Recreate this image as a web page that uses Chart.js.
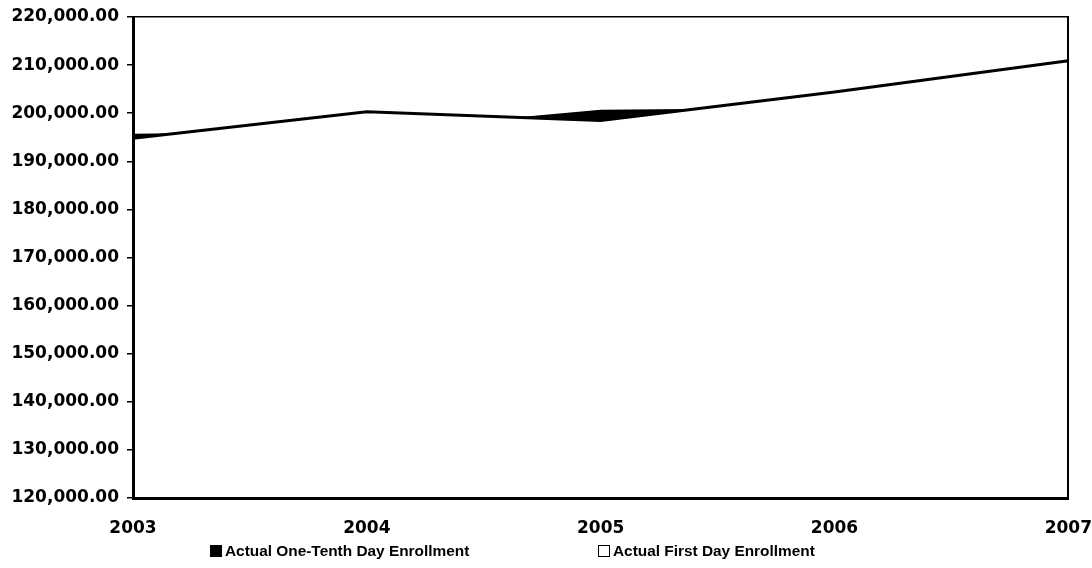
<!DOCTYPE html>
<html>
<head>
<meta charset="utf-8">
<script src="https://cdn.jsdelivr.net/npm/chart.js@4.4.0/dist/chart.umd.min.js"></script>
<style>
  html, body { margin: 0; padding: 0; background: #fff; }
  #wrap { width: 1092px; height: 568px; position: relative; overflow: hidden; }
  #legend { position: absolute; left: 0; top: 0; width: 1092px; height: 568px; pointer-events: none; }
  .item { position: absolute; top: 542px; display: flex; align-items: center;
          font-family: 'Liberation Sans', Arial, sans-serif; font-weight: bold; font-size: 15.4px; color: #000; white-space: nowrap; }
  .box { width: 10px; height: 10px; border: 1.5px solid #000; margin-right: 3px; }
</style>
</head>
<body>
<div id="wrap">
  <canvas id="c" width="1092" height="568"></canvas>
  <div id="legend"></div>
</div>
<script>
const years = ['2003', '2004', '2005', '2006', '2007'];
const oneTenthDay = [195400, 196000, 200400, 200800, 209000];
const firstDay = [194800, 200300, 198500, 204400, 210900];
const seriesNames = ['Actual One-Tenth Day Enrollment', 'Actual First Day Enrollment'];
const yMin = 120000, yMax = 220000, yStep = 10000;

const axisFont = { family: 'DejaVu Sans', size: 17, weight: 'bold', lineHeight: 1.0 };

const chart = new Chart(document.getElementById('c'), {
  type: 'line',
  data: {
    labels: years,
    datasets: [
      {
        label: seriesNames[0],
        data: oneTenthDay,
        borderColor: '#000',
        backgroundColor: '#000',
        borderWidth: 3,
        fill: 'start',
        tension: 0,
        pointRadius: 0,
        order: 2
      },
      {
        label: seriesNames[1],
        data: firstDay,
        borderColor: '#000',
        backgroundColor: '#fff',
        borderWidth: 3,
        fill: 'start',
        tension: 0,
        pointRadius: 0,
        order: 1
      }
    ]
  },
  options: {
    responsive: false,
    animation: false,
    layout: { padding: { top: 17, right: 22, left: 0, bottom: 31 } },
    plugins: {
      tooltip: { enabled: false },
      title: { display: false },
      legend: { display: false }
    },
    scales: {
      x: {
        type: 'category',
        offset: false,
        grid: { display: false, drawTicks: true, tickLength: 22 },
        border: { display: true, color: '#000', width: 3, z: 1 },
        ticks: { color: '#000', font: axisFont, padding: 0, maxRotation: 0, autoSkip: false }
      },
      y: {
        min: yMin,
        max: yMax,
        afterFit: (scale) => { scale.width = 133; },
        grid: { drawOnChartArea: false, color: '#000', lineWidth: 1.5, tickLength: 6 },
        border: { display: true, color: '#000', width: 3, z: 1 },
        ticks: {
          stepSize: yStep,
          color: '#000',
          font: axisFont,
          padding: 8,
          callback: (v) => Number(v).toLocaleString('en-US', { minimumFractionDigits: 2, maximumFractionDigits: 2 })
        }
      },
      yRight: {
        position: 'right',
        min: yMin,
        max: yMax,
        grid: { display: false, drawTicks: false },
        border: { display: true, color: '#000', width: 2, z: 1 },
        ticks: { display: false }
      },
      xTop: {
        position: 'top',
        type: 'category',
        labels: years,
        offset: false,
        grid: { display: false, drawTicks: false },
        border: { display: true, color: '#000', width: 1.5, z: 1 },
        ticks: { display: false }
      }
    }
  }
});

// HTML legend built from the chart's datasets
const legendPos = [210, 598];
const legendEl = document.getElementById('legend');
chart.data.datasets.forEach((ds, i) => {
  const item = document.createElement('div');
  item.className = 'item';
  item.style.left = legendPos[i] + 'px';
  const box = document.createElement('span');
  box.className = 'box';
  box.style.background = ds.backgroundColor;
  const txt = document.createElement('span');
  txt.textContent = ds.label;
  item.appendChild(box);
  item.appendChild(txt);
  legendEl.appendChild(item);
});
</script>
</body>
</html>
